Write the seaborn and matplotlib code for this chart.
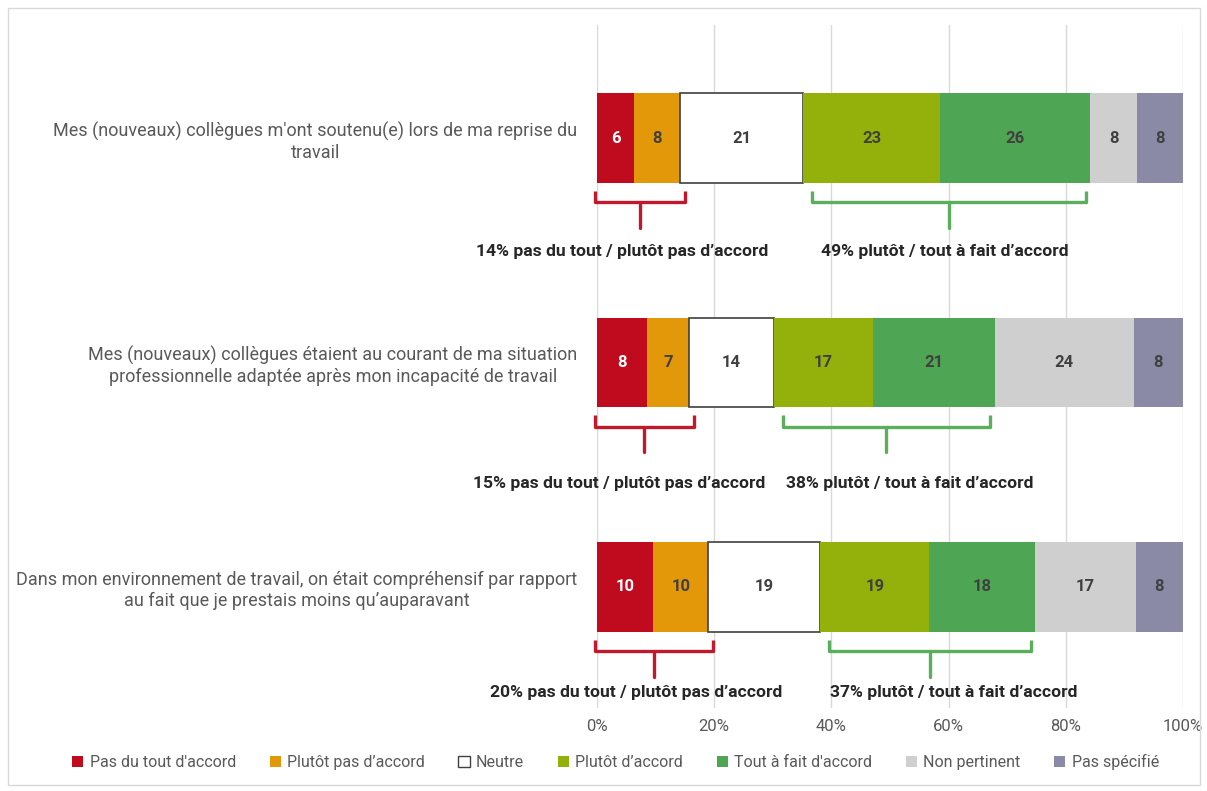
import numpy as np
import matplotlib
matplotlib.use('Agg')
import matplotlib.pyplot as plt
import seaborn as sns
from matplotlib.patches import Patch, Rectangle

# Données (en %)
questions = [
    "Mes (nouveaux) collègues m'ont soutenu(e) lors de ma reprise du\ntravail",
    "Mes (nouveaux) collègues étaient au courant de ma situation\nprofessionnelle adaptée après mon incapacité de travail",
    "Dans mon environnement de travail, on était compréhensif par rapport\nau fait que je prestais moins qu\u2019auparavant",
]
categories = ["Pas du tout d'accord", "Plutôt pas d\u2019accord", "Neutre", "Plutôt d\u2019accord",
              "Tout à fait d'accord", "Non pertinent", "Pas spécifié"]
values = [
    [6.3, 7.9, 21.0, 23.4, 25.6, 8.0, 7.8],
    [8.5, 7.2, 14.5, 16.9, 20.8, 23.7, 8.4],
    [9.6, 9.4, 19.1, 18.6, 18.1, 17.1, 8.1],
]
labels = [
    [6, 8, 21, 23, 26, 8, 8],
    [8, 7, 14, 17, 21, 24, 8],
    [10, 10, 19, 19, 18, 17, 8],
]
disagree_txt = ["14% pas du tout / plutôt pas d\u2019accord",
                "15% pas du tout / plutôt pas d\u2019accord",
                "20% pas du tout / plutôt pas d\u2019accord"]
agree_txt = ["49% plutôt / tout à fait d\u2019accord",
             "38% plutôt / tout à fait d\u2019accord",
             "37% plutôt / tout à fait d\u2019accord"]

colors = ["#C00A1E", "#E3980A", "#FFFFFF", "#93B00B", "#4EA553", "#D0CFCF", "#8A8AA6"]
red_br = "#C2182B"
green_br = "#5BAE5B"

sns.set_theme(style="white")
plt.rcParams['font.family'] = ['Roboto', 'DejaVu Sans']

fig = plt.figure(figsize=(12.07, 7.91), dpi=100)
ax = fig.add_axes([597 / 1207, 1 - 708 / 791, 586 / 1207, 683 / 791])

vals = np.array(values)
lefts = np.hstack([np.zeros((len(questions), 1)), np.cumsum(vals, axis=1)[:, :-1]])
y = np.arange(len(questions))

for j, cat in enumerate(categories):
    ec = "#404040" if j == 2 else colors[j]
    lw = 1.2 if j == 2 else 0
    ax.barh(y, vals[:, j], left=lefts[:, j], height=0.40, color=colors[j],
            edgecolor=ec, linewidth=lw, label=cat, zorder=3)
    for i in range(len(questions)):
        tc = "white" if j == 0 else "#404040"
        ax.text(lefts[i, j] + vals[i, j] / 2, y[i], str(labels[i][j]), ha='center', va='center',
                fontsize=12, fontweight='bold', color=tc, zorder=4)

# accolades
def bracket(x0, x1, yc, col):
    top, mid, bot = yc + 0.235, yc + 0.285, yc + 0.40
    ax.plot([x0, x0, x1, x1], [top, mid, mid, top], color=col, lw=2.4, zorder=3,
            solid_capstyle='butt', clip_on=False)
    xm = (x0 + x1) / 2
    ax.plot([xm, xm], [mid, bot], color=col, lw=2.4, zorder=3, clip_on=False)
    return xm

red_shift = [-3.0, -4.3, -3.0]
green_shift = [-0.7, 4.0, 4.0]
label_dy = [0.503, 0.54, 0.47]
for i in range(len(questions)):
    xr = bracket(-0.4, lefts[i, 2] + 0.8, y[i], red_br)
    xg = bracket(lefts[i, 3] + 1.5, lefts[i, 5] - 0.8, y[i], green_br)
    ax.text(xr + red_shift[i], y[i] + label_dy[i], disagree_txt[i], ha='center', va='center',
            fontsize=12.6, color="#262626", fontweight='bold')
    ax.text(xg + green_shift[i], y[i] + label_dy[i], agree_txt[i], ha='center', va='center',
            fontsize=12.6, color="#262626", fontweight='bold')

ax.set_xlim(0, 100)
ax.set_ylim(2.54, -0.505)
ax.set_xticks(np.arange(0, 101, 20))
ax.set_xticklabels([f"{t}%" for t in range(0, 101, 20)], color="#595959", fontsize=12)
ax.set_yticks(y)
ax.set_yticklabels(questions, color="#595959", fontsize=13, multialignment='center')
ax.tick_params(axis='y', length=0, pad=14)
ax.tick_params(axis='x', length=0, pad=8)
ax.grid(axis='x', color="#D9D9D9", lw=1, zorder=0)
for s in ax.spines.values():
    s.set_visible(False)

handles = [Patch(facecolor=c, edgecolor=("#404040" if k == 2 else c), linewidth=(1 if k == 2 else 0))
           for k, c in enumerate(colors)]
fig.legend(handles, categories, loc='center', bbox_to_anchor=(0.51, 1 - 762 / 791), ncol=7,
           frameon=False, fontsize=11.5, handlelength=0.7, handleheight=0.7, handletextpad=0.4,
           columnspacing=2.1, labelcolor="#595959")

fig.patches.append(Rectangle((8 / 1207, 6 / 791), 1192 / 1207, 777 / 791, transform=fig.transFigure,
                             fill=False, edgecolor="#D9D9D9", lw=1))

fig.savefig("out.png", dpi=100)
